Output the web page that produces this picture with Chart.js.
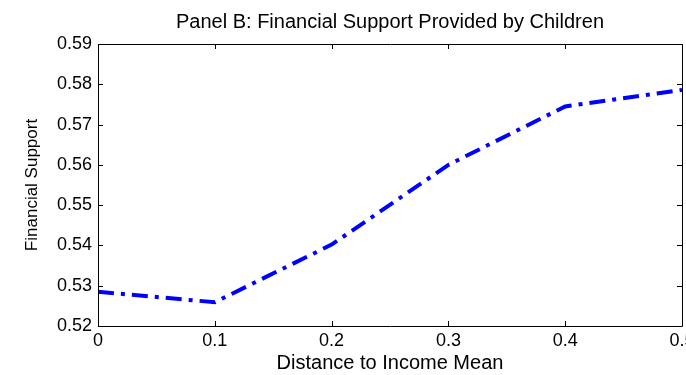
<!DOCTYPE html>
<html>
<head>
<meta charset="utf-8">
<script src="https://cdn.jsdelivr.net/npm/chart.js@4"></script>
<style>
  html, body { margin: 0; padding: 0; background: #fff; overflow: hidden; }
  #wrap { width: 686px; height: 375px; }
</style>
</head>
<body>
<div id="wrap"><canvas id="c" width="686" height="375"></canvas></div>
<script>
// Distance to income mean (x) and financial support provided by children (y)
const distance = [0, 0.1, 0.2, 0.3, 0.4, 0.5];
const support = [0.5285, 0.5259, 0.5402, 0.5600, 0.5745, 0.5786];
const xTicks = [0, 0.1, 0.2, 0.3, 0.4, 0.5];
const yTicks = [0.52, 0.53, 0.54, 0.55, 0.56, 0.57, 0.58, 0.59];

const FONT = "'Liberation Sans', Arial, sans-serif";
const TICK_LEN = 5;

// Box around the plot area with inward tick marks on all four sides
const boxAxes = {
  id: 'boxAxes',
  afterDraw(chart) {
    const { ctx, chartArea: a, scales } = chart;
    ctx.save();
    ctx.strokeStyle = '#000';
    ctx.lineWidth = 1;
    ctx.beginPath();
    ctx.rect(Math.round(a.left) + 0.5, Math.round(a.top) + 0.5,
             Math.round(a.right - a.left), Math.round(a.bottom - a.top));
    ctx.stroke();
    ctx.beginPath();
    xTicks.forEach(v => {
      const x = Math.round(scales.x.getPixelForValue(v)) + 0.5;
      ctx.moveTo(x, a.bottom); ctx.lineTo(x, a.bottom - TICK_LEN);
      ctx.moveTo(x, a.top); ctx.lineTo(x, a.top + TICK_LEN);
    });
    yTicks.forEach(v => {
      const y = Math.round(scales.y.getPixelForValue(v)) + 0.5;
      ctx.moveTo(a.left, y); ctx.lineTo(a.left + TICK_LEN, y);
      ctx.moveTo(a.right, y); ctx.lineTo(a.right - TICK_LEN, y);
    });
    ctx.stroke();
    ctx.restore();
  }
};

new Chart(document.getElementById('c'), {
  type: 'line',
  data: {
    datasets: [{
      data: distance.map((d, i) => ({ x: d, y: support[i] })),
      borderColor: '#0000ff',
      borderWidth: 4,
      borderDash: [16, 7, 4, 7],
      borderCapStyle: 'butt',
      pointRadius: 0,
      tension: 0,
      fill: false
    }]
  },
  options: {
    responsive: false,
    animation: false,
    layout: { padding: { left: 0, right: 4, top: 0, bottom: 0 } },
    plugins: {
      legend: { display: false },
      tooltip: { enabled: false },
      title: {
        display: true,
        fullSize: false,
        text: 'Panel B: Financial Support Provided by Children',
        color: '#000',
        font: { family: FONT, size: 20, weight: 'normal' },
        padding: { top: 10, bottom: 10 }
      }
    },
    scales: {
      x: {
        type: 'linear',
        min: 0, max: 0.5,
        afterBuildTicks: s => { s.ticks = xTicks.map(v => ({ value: v })); },
        afterFit: s => { s.height = 49; s.paddingLeft = 0; s.paddingRight = 0; },
        grid: { display: false, drawTicks: false },
        border: { display: false },
        ticks: {
          color: '#000',
          padding: 4,
          maxRotation: 0,
          font: { family: FONT, size: 18 },
          callback: v => (v === 0 ? '0' : v.toFixed(1))
        },
        title: {
          display: true,
          text: 'Distance to Income Mean',
          color: '#000',
          font: { family: FONT, size: 20 },
          padding: { top: 0, bottom: 0 }
        }
      },
      y: {
        type: 'linear',
        min: 0.52, max: 0.59,
        afterBuildTicks: s => { s.ticks = yTicks.map(v => ({ value: v })); },
        afterFit: s => { s.width = 98; s.paddingTop = 0; s.paddingBottom = 0; },
        grid: { display: false, drawTicks: false },
        border: { display: false },
        ticks: {
          color: '#000',
          padding: 6,
          font: { family: FONT, size: 18 },
          callback: v => v.toFixed(2)
        },
        title: {
          display: true,
          text: 'Financial Support',
          color: '#000',
          font: { family: FONT, size: 17 },
          padding: { top: 22, bottom: 0 }
        }
      }
    }
  },
  plugins: [boxAxes]
});
</script>
</body>
</html>
